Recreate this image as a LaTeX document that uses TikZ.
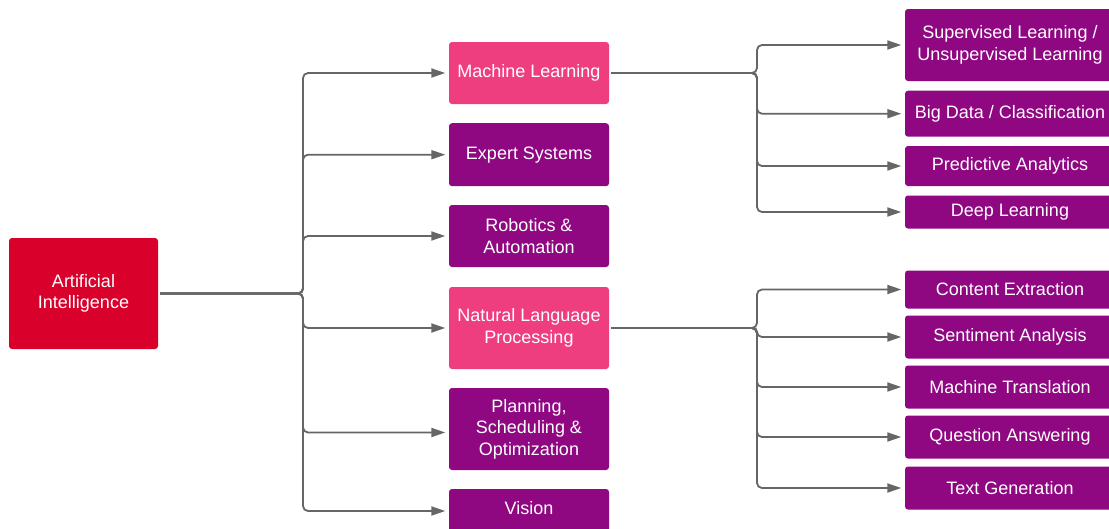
\documentclass[tikz,border=0pt]{standalone}
\usepackage{fontspec}
\setmainfont{Liberation Sans}
\usetikzlibrary{arrows.meta}
\definecolor{rootred}{HTML}{D9002B}
\definecolor{hotpink}{HTML}{EE3E80}
\definecolor{plum}{HTML}{8F0882}
\definecolor{wire}{HTML}{666666}
\tikzset{
  box/.style={rectangle, rounded corners=3pt, text=white, align=center,
    inner sep=0pt, fill=plum},
  midbox/.style={box, minimum width=160pt},
  leafbox/.style={box, minimum width=210pt},
  conn/.style={draw=wire, line width=1.8pt, rounded corners=5pt,
    -{Triangle[length=14pt,width=9pt]}, shorten >=3.5pt, shorten <=2pt},
}
\begin{document}
\begin{tikzpicture}[x=1pt,y=-1pt,font=\fontsize{18}{21.6}\selectfont]
\clip (0,0) rectangle (1109,528);
\fill[white] (0,0) rectangle (1109,528);

% root
\node[box, fill=rootred, minimum width=149pt, minimum height=111pt]
  (ai) at (83.5,293.5) {Artificial\\Intelligence};

% second level
\node[midbox, fill=hotpink, minimum height=62pt] (ml)  at (529,73)    {Machine Learning};
\node[midbox, minimum height=63pt]  (es)  at (529,154.7) {Expert Systems};
\node[midbox, minimum height=62pt]  (rob) at (529,236)   {Robotics \&\\Automation};
\node[midbox, fill=hotpink, minimum height=82pt] (nlp) at (529,328) {Natural Language\\Processing};
\node[midbox, minimum height=82pt]  (pso) at (529,429)   {Planning,\\Scheduling \&\\Optimization};
% the vision box runs past the lower edge; its label sits a little high
\node[midbox, minimum height=44pt]  (vis) at (529,511)   {};
\node[text=white] (vislabel) at (529,508) {Vision};

% machine learning leaves
\node[leafbox, minimum height=72pt] (sup)  at (1010,45)    {Supervised Learning /\\Unsupervised Learning};
\node[leafbox, minimum height=46pt] (big)  at (1010,113.7) {Big Data / Classification};
\node[leafbox, minimum height=40pt] (pred) at (1010,166)   {Predictive Analytics};
\node[leafbox, minimum height=33pt] (deep) at (1010,212)   {Deep Learning};

% NLP leaves
\node[leafbox, minimum height=38pt] (ce) at (1010,289.5) {Content Extraction};
\node[leafbox, minimum height=43pt] (sa) at (1010,337)   {Sentiment Analysis};
\node[leafbox, minimum height=43pt] (mt) at (1010,387)   {Machine Translation};
\node[leafbox, minimum height=43pt] (qa) at (1010,437)   {Question Answering};
\node[leafbox, minimum height=43pt] (tg) at (1010,488)   {Text Generation};

% branching columns
\coordinate (jroot) at (303,0);
\coordinate (jleaf) at (757,0);

\foreach \c in {ml,es,rob,nlp,vis}
  \draw[conn] (ai.east) -- (ai.east -| jroot) |- (\c.west);
\draw[conn] (ai.east) -- (ai.east -| jroot) |- ([yshift=-3.5pt]pso.west);

\foreach \c in {sup,big,pred,deep}
  \draw[conn] (ml.east) -- (ml.east -| jleaf) |- (\c.west);

\foreach \c in {ce,sa,mt,qa,tg}
  \draw[conn] (nlp.east) -- (nlp.east -| jleaf) |- (\c.west);
\end{tikzpicture}
\end{document}
